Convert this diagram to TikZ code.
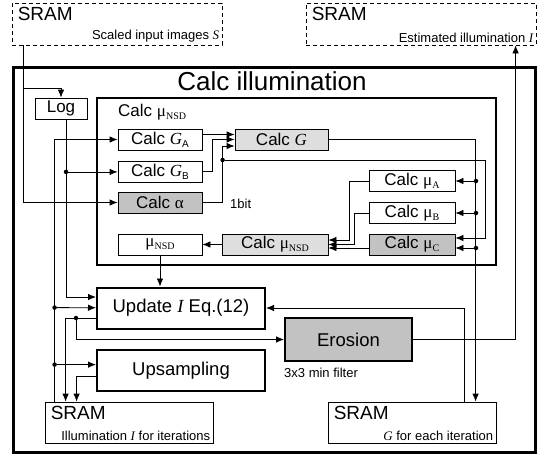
\documentclass[tikz,border=0pt]{standalone}
\usepackage{fontspec}
\setmainfont{Liberation Sans}
\newfontfamily\tms{Liberation Serif}
\usetikzlibrary{arrows.meta, positioning, calc}

\newcommand{\lowsub}[1]{\raisebox{-.35ex}{\fontsize{10}{10}\selectfont #1}}
\newcommand{\muof}[1]{{\tms μ\lowsub{#1}}}
\newcommand{\vr}[1]{{\tms\itshape #1}}

\definecolor{lightg}{gray}{0.87}
\definecolor{darkg}{gray}{0.76}

\tikzset{
  wire/.style={line width=0.8pt},
  arr/.style={wire, -{Latex[length=8pt,width=6.5pt]}},
  small/.style={draw, line width=0.8pt, minimum width=84pt, minimum height=21pt, inner sep=0pt, font=\fontsize{17}{18}\selectfont},
  bigbox/.style={draw, line width=2pt, minimum width=168pt, minimum height=41pt, inner sep=0pt, font=\fontsize{18.5}{20}\selectfont},
  sram/.style={draw, line width=0.8pt, minimum width=168pt, minimum height=41pt, inner sep=0pt},
  srtitle/.style={inner xsep=6pt, inner ysep=4pt, font=\fontsize{19}{20}\selectfont},
  srnote/.style={inner sep=3pt, font=\fontsize{13}{14}\selectfont},
  dot/.style={circle, fill, inner sep=0pt, minimum size=4.5pt},
}

\begin{document}
\begin{tikzpicture}[x=1pt, y=-1pt]
\useasboundingbox (0,0) rectangle (538,455);

% frames
\node[draw, line width=3pt, minimum width=522pt, minimum height=385pt, inner sep=0pt] (calcill) at (274,259.5) {};
\node[font=\fontsize{26}{27}\selectfont] (title) at (272,81) {Calc illumination};
\node[draw, line width=2pt, minimum width=399pt, minimum height=167pt, inner sep=0pt] (calcnsd) at (296.5,181.5) {};
\node[anchor=west, inner sep=0pt, font=\fontsize{17}{18}\selectfont] (nsdt) at (118,112) {Calc \muof{NSD}};

% memories
\node[sram, dashed, dash pattern=on 4pt off 3pt, minimum width=210pt, minimum height=42pt] (sramS) at (117,24) {};
\node[srtitle, anchor=north west] (sramSt) at (sramS.north west) {SRAM};
\node[srnote, anchor=south east] (sramSc) at (sramS.south east) {Scaled input images \vr{S}};
\node[sram, dashed, dash pattern=on 4pt off 3pt, minimum width=230pt, minimum height=42pt] (sramI) at (421,24) {};
\node[srtitle, anchor=north west] (sramIt) at (sramI.north west) {SRAM};
\node[srnote, anchor=south east] (sramIc) at (sramI.south east) {Estimated illumination \vr{I}};
\node[sram] (sramL) at (129,422.5) {};
\node[srtitle, anchor=north west] (sramLt) at (sramL.north west) {SRAM};
\node[srnote, anchor=south east] (sramLc) at (sramL.south east) {Illumination \vr{I} for iterations};
\node[sram] (sramG) at (412,422.5) {};
\node[srtitle, anchor=north west] (sramGt) at (sramG.north west) {SRAM};
\node[srnote, anchor=south east] (sramGc) at (sramG.south east) {\vr{G} for each iteration};

% blocks
\node[small, minimum width=52pt] (log) at (61,108.5) {Log};
\node[small] (ga) at (160,139.5) {Calc \vr{G}\lowsub{A}};
\node[small, fill=lightg, minimum width=93pt] (calcg) at (281.5,139.5) {Calc \vr{G}};
\node[small] (gb) at (160,171.5) {Calc \vr{G}\lowsub{B}};
\node[small, fill=darkg] (alpha) at (160,202.5) {Calc {\tms α}};
\node[font=\fontsize{13}{14}\selectfont, anchor=west, inner sep=0pt] (onebit) at (230,204) {1bit};
\node[small, minimum width=86pt] (mua) at (412,181) {Calc \muof{A}};
\node[small, minimum width=86pt] (mub) at (412,213) {Calc \muof{B}};
\node[small, fill=darkg, minimum width=86pt] (muc) at (412,244.5) {Calc \muof{C}};
\node[small, fill=lightg, minimum width=106pt] (munc) at (275,244.5) {Calc \muof{NSD}};
\node[small] (munsd) at (160,244.5) {\muof{NSD}};

\node[bigbox] (update) at (181,308) {Update \vr{I} Eq.(12)};
\node[bigbox] (ups) at (181,370.5) {Upsampling};
\node[bigbox, fill=darkg, minimum width=127pt, minimum height=43pt] (eros) at (348.5,339.5) {Erosion};
\node[font=\fontsize{13}{14}\selectfont, anchor=north west, inner sep=0pt] (erosn) at ($(eros.south west)+(0,6)$) {3x3 min filter};

% input images
\draw[arr] ($(sramS.south west)+(12,0)$) |- (alpha);
\coordinate (tolog) at ($(sramS.south west)+(12,43)$);
\draw[arr] (tolog) -| (log);

% log path
\draw[arr] ($(log.south)+(5,0)$) |- ($(update.west)+(0,-11)$);
\node[dot] (d1) at ($(log.south)+(5,52.5)$) {};
\draw[arr] (d1) -- (d1 -| gb.west);

% illumination from memory
\draw[arr] ($(sramL.north west)+(10,0)$) |- (ga);
\node[dot] (d2) at ($(sramL.north west)+(10,-94)$) {};
\draw[arr] (d2) -- (update);
\node[dot] (d3) at ($(sramL.north west)+(10,-37)$) {};
\draw[arr] (d3) -- (d3 -| ups.west);

% results back to memory
\draw[arr] ($(update.west)+(0,10)$) -| ($(sramL.north west)+(21,0)$);
\node[dot] (d4) at ($(update.west)+(-20,10)$) {};
\draw[arr] (d4) |- (eros);
\draw[arr] ($(ups.west)+(0,6)$) -| ($(sramL.north west)+(32,0)$);
\draw[arr] (eros) -| ($(sramI.south west)+(210,0)$);
\draw[arr] ($(sramG.north west)+(137,0)$) |- (update);

% G and mu
\draw[arr] ($(ga.east)+(0,-5)$) -- ($(calcg.west)+(0,-5)$);
\draw[arr] (gb.east) -| ($(calcg.west)+(-22,0)$) -- (calcg.west);
\draw[arr] (alpha.east) -| ($(calcg.west)+(-12,6.5)$) -- ($(calcg.west)+(0,6.5)$);
\node[dot] (d8) at ($(calcg.west)+(-12,20.5)$) {};
\draw[arr] (d8) -- (485,160) |- ($(muc.east)+(0,-6.5)$);

\draw[arr] (calcg) -| ($(sramG.north west)+(148,0)$);
\node[dot] (d5) at (476,181) {};
\node[dot] (d6) at (476,213) {};
\node[dot] (d7) at (476,248) {};
\draw[arr] (d5) -- (mua);
\draw[arr] (d6) -- (mub);
\draw[arr] (d7) -- (d7 -| muc.east);

\draw[arr] (mua.west) -| ($(munc.east)+(21,-4.5)$) -- ($(munc.east)+(0,-4.5)$);
\draw[arr] (mub.west) -| ($(munc.east)+(26,0)$) -- (munc.east);
\draw[arr] ($(muc.west)+(0,3.5)$) -- ($(munc.east)+(0,3.5)$);
\draw[arr] (munc) -- (munsd);
\draw[arr] (munsd.south) -- (munsd.south |- update.north);
\end{tikzpicture}
\end{document}
